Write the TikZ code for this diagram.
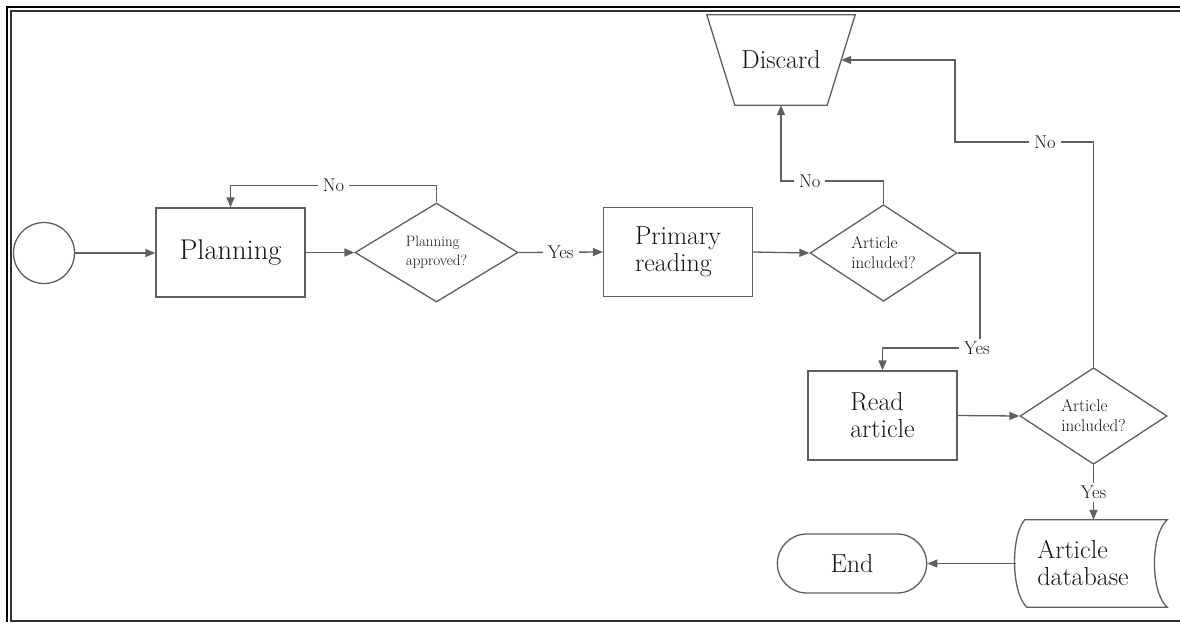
\documentclass[tikz,border=0pt]{standalone}
\usetikzlibrary{shapes.geometric,shapes.misc,arrows.meta}
\definecolor{lc}{RGB}{95,95,95}
\definecolor{tc}{RGB}{20,20,20}
\begin{document}
\begin{tikzpicture}[x=1pt,y=-1pt,
  every node/.style={text=tc},
  box/.style={draw=lc,line width=1.3pt,minimum width=149pt,minimum height=89pt,inner sep=0pt,font=\fontsize{26}{27}\selectfont,align=left},
  dia/.style={draw=lc,line width=1.3pt,diamond,inner sep=0pt,align=left},
  arr/.style={draw=lc,line width=1.3pt,-{Triangle[length=10pt,width=8pt]}},
  ln/.style={draw=lc,line width=1.3pt},
  lbl/.style={fill=white,inner xsep=5pt,inner ysep=3pt,font=\fontsize{18.5}{20}\selectfont},
  big/.style={font=\fontsize{26}{27}\selectfont,align=left,inner sep=0pt},
  small/.style={font=\fontsize{15}{19}\selectfont},
  smallb/.style={font=\fontsize{17}{20}\selectfont},
]
\useasboundingbox (0,0) rectangle (1180,622);
% frame
\draw[line width=2.5pt,black] (7,622) -- (7,7) -- (1180,7);
\draw[line width=2pt,black!80] (1180,11) -- (11,11) -- (11,621) -- (1180,621);

% nodes
\node[circle,draw=lc,line width=1.3pt,minimum size=61pt,inner sep=0pt] (st) at (44,253) {};
\node[box,font=\fontsize{28.5}{30}\selectfont] (pl) at (230.5,252.5) {Planning};
\node[dia,small,minimum width=163pt,minimum height=99pt] (d1) at (436.5,252.5) {Planning\\approved?};
\node[box] (pr) at (678,252) {Primary\\reading};
\node[dia,smallb,minimum width=147pt,minimum height=88pt] (d2) at (883.5,253) {Article\\included?};
\node[big,minimum width=120pt,minimum height=90pt] (dc) at (781,60) {Discard};
\draw[ln] ([xshift=-14pt]dc.north west) -- ([xshift=14pt]dc.north east) -- ([xshift=-14pt]dc.south east) -- ([xshift=14pt]dc.south west) -- cycle;
\node[box] (ra) at (882.5,415.5) {Read\\article};
\node[dia,smallb,minimum width=147pt,minimum height=86pt] (d3) at (1093.5,416) {Article\\included?};
\node[minimum width=151pt,minimum height=87pt,inner sep=0pt] (db) at (1091.5,563.5) {};
\draw[ln] ([xshift=9pt]db.north west) -- (db.north east)
  .. controls ([xshift=-17pt,yshift=-15pt]db.north east) and ([xshift=-17pt,yshift=15pt]db.south east) .. (db.south east)
  -- ([xshift=11pt]db.south west)
  .. controls ([xshift=-5pt,yshift=15pt]db.south west) and ([xshift=-5pt,yshift=-15pt]db.north west) .. ([xshift=9pt]db.north west) -- cycle;
\node[big] (dbt) at (1083,563) {Article\\database};
\node[rounded rectangle,draw=lc,line width=1.3pt,minimum width=156pt,minimum height=59pt,font=\fontsize{26}{27}\selectfont] (en) at (852,563.5) {End};

% connectors
\draw[arr] (st.east) -- (pl.west |- st.east);
\draw[arr] (pl.east |- d1.west) -- (d1.west);
\draw[arr] (d1.north) -- ++(0,-17) -| node[lbl,pos=0.25] (n1) {No} (pl.north);
\draw[arr] (d1.east) -- node[lbl] (y1) {Yes} (pr.west);
\draw[arr] (pr.east) -- (d2.west);
\draw[arr] (d2.north) -- ++(0,-23) -| node[lbl,pos=0.36] (n2) {No} (dc.south);
\coordinate (yc) at (980,348);
\draw[arr] (d2.east) -| (yc) -| (ra.north);
\node[lbl] (y2) at ([xshift=-3pt]yc) {Yes};
\draw[arr] (ra.east) -- (d3.west);
\coordinate (k3) at (955,142);
\draw[arr] (d3.north) |- node[lbl,pos=0.675] (n3) {No} (k3) |- (dc.east);
\draw[arr] (d3.south) -- node[lbl] (y3) {Yes} (d3.south |- db.north);
\draw[arr] (db.west) -- (en.east);
\end{tikzpicture}
\end{document}
